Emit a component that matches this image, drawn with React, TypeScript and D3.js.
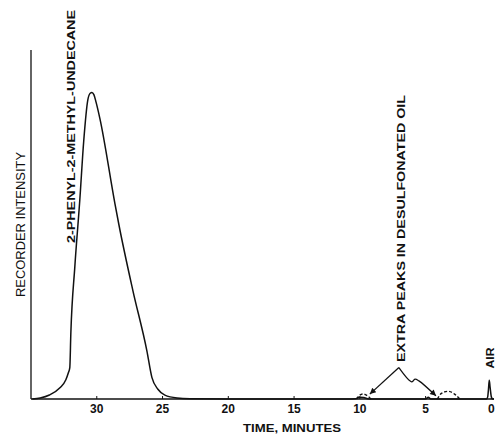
import React, { useEffect, useRef } from 'react'
import * as d3 from 'd3'

// recorder trace, time in minutes (read right to left), intensity in % of the axis height
const traceTime = [34.9, 34.3, 33.6, 32.8, 32.35, 32.16, 32.05, 31.97, 31.67, 31.29, 30.99, 30.68, 30.5, 30.37, 30.22, 30.05, 29.77, 28.62, 28.32, 27.25, 26.19, 25.81, 25.35, 24.82, 23.9, 22.9, 20, 15, 11, 10.3, 10.0, 9.7, 9.3, 7, 5.0, 4.8, 4.6, 1.0, 0.36, 0.28, 0.22, 0.16, 0.1, 0.02, -0.05, -0.1, -0.2]
const traceValue = [0, 0.3, 1.15, 3.2, 5.5, 7.5, 9, 19, 37.8, 57, 74, 85.7, 87.6, 87.8, 87.2, 85, 80.5, 56, 50, 31, 13.8, 6.2, 2.8, 1.1, 0.3, 0.1, 0, 0, 0, 0.1, 0.5, 0.4, 0, 0, 0, 0.5, 0, 0, 0, 0.6, 2.8, 5.4, 3.5, 1.0, 0.2, 0, 0]

// dashed extra peaks of the desulfonated oil
const extraATime = [10.25, 10.0, 9.77, 9.5, 9.15]
const extraAValue = [0, 1.1, 1.45, 1.1, 0]
const extraBTime = [4.1, 3.8, 3.3, 2.8, 2.4]
const extraBValue = [0, 1.6, 2.2, 1.4, 0]

// annotation arrows
const arrowLeftTime = [7.03, 9.24]
const arrowLeftValue = [9.0, 1.4]
const arrowRightTime = [7.03, 6.04, 5.81, 5.51, 4.21]
const arrowRightValue = [9.0, 4.9, 5.7, 5.2, 0.9]

const tickValues = [30, 25, 20, 15, 10, 5, 0]
const tickLabels = ['30', '25', '20', '15', '10', '5', '0']

const Chart = () => {
    const ref = useRef(null)

    const width = 497, height = 436
    const margin = { top: 50, right: 3, bottom: 37, left: 31 }

    useEffect(() => {
        const svg = d3.select(ref.current)
        svg.selectAll('*').remove()

        const x = d3.scaleLinear().domain([35, -0.2]).range([margin.left, width - margin.right])
        const y = d3.scaleLinear().domain([0, 100]).range([height - margin.bottom, margin.top])
        const font = '"Liberation Sans", Arial, sans-serif'

        svg.append('defs').append('marker')
            .attr('id', 'head')
            .attr('viewBox', '0 0 10 10')
            .attr('refX', 10).attr('refY', 5)
            .attr('markerWidth', 9).attr('markerHeight', 6)
            .attr('markerUnits', 'userSpaceOnUse')
            .attr('orient', 'auto')
            .append('path').attr('d', 'M0,0 L10,5 L0,10 z').attr('fill', '#111')

        // axes
        svg.append('line')
            .attr('x1', x(35)).attr('x2', x(-0.2))
            .attr('y1', y(0)).attr('y2', y(0))
            .attr('stroke', '#111').attr('stroke-width', 1.6)
        svg.append('line')
            .attr('x1', x(35)).attr('x2', x(35))
            .attr('y1', y(0)).attr('y2', y(100))
            .attr('stroke', '#111').attr('stroke-width', 1.3)

        const ticks = svg.append('g')
        ticks.selectAll('line').data(tickValues).enter().append('line')
            .attr('x1', d => x(d)).attr('x2', d => x(d))
            .attr('y1', y(0)).attr('y2', y(0) - 3)
            .attr('stroke', '#111').attr('stroke-width', 1)
        ticks.selectAll('text').data(tickValues).enter().append('text')
            .attr('x', d => x(d)).attr('y', y(0) + 14)
            .attr('text-anchor', 'middle')
            .attr('font-family', font).attr('font-size', 12).attr('font-weight', 'bold')
            .attr('fill', '#111')
            .text((d, i) => tickLabels[i])

        svg.append('text')
            .attr('x', 292).attr('y', 432)
            .attr('text-anchor', 'middle')
            .attr('font-family', font).attr('font-size', 11.5).attr('font-weight', 'bold')
            .attr('textLength', 98).attr('lengthAdjust', 'spacingAndGlyphs')
            .attr('fill', '#111')
            .text('TIME, MINUTES')

        const vertical = (label, cx, cy, len, weight, size) => {
            svg.append('text')
                .attr('transform', `translate(${cx},${cy}) rotate(-90)`)
                .attr('text-anchor', 'middle').attr('dy', '0.36em')
                .attr('font-family', font).attr('font-size', size).attr('font-weight', weight)
                .attr('textLength', len).attr('lengthAdjust', 'spacingAndGlyphs')
                .attr('fill', '#111')
                .text(label)
        }
        vertical('RECORDER INTENSITY', 20, 224.5, 145, 'normal', 12.5)
        vertical('2-PHENYL-2-METHYL-UNDECANE', 71, 126.5, 233, 'bold', 11.5)
        vertical('EXTRA PEAKS IN DESULFONATED OIL', 401, 228.5, 267, 'bold', 11.5)
        vertical('AIR', x(0.1), 358, 21, 'bold', 11.5)

        // trace
        const line = d3.line().x(d => x(d[0])).y(d => y(d[1])).curve(d3.curveMonotoneX)
        svg.append('path')
            .attr('d', line(traceTime.map((t, i) => [t, traceValue[i]])))
            .attr('fill', 'none').attr('stroke', '#111').attr('stroke-width', 1.5)

        const dashed = [[extraATime, extraAValue], [extraBTime, extraBValue]]
        dashed.forEach(([ts, vs]) => {
            svg.append('path')
                .attr('d', line(ts.map((t, i) => [t, vs[i]])))
                .attr('fill', 'none').attr('stroke', '#111').attr('stroke-width', 1.4)
                .attr('stroke-dasharray', '3,2')
        })

        const pointer = d3.line().x(d => x(d[0])).y(d => y(d[1])).curve(d3.curveCatmullRom.alpha(0.5))
        const arrows = [[arrowLeftTime, arrowLeftValue], [arrowRightTime, arrowRightValue]]
        arrows.forEach(([ts, vs]) => {
            svg.append('path')
                .attr('d', pointer(ts.map((t, i) => [t, vs[i]])))
                .attr('fill', 'none').attr('stroke', '#111').attr('stroke-width', 1.3)
                .attr('marker-end', 'url(#head)')
        })
    })

    return (
        <svg ref={ref} width={width} height={height}
            style={{ position: 'absolute', left: 0, top: 0, background: '#fff' }} />
    )
}

export default function App() {
    return <Chart />
}
